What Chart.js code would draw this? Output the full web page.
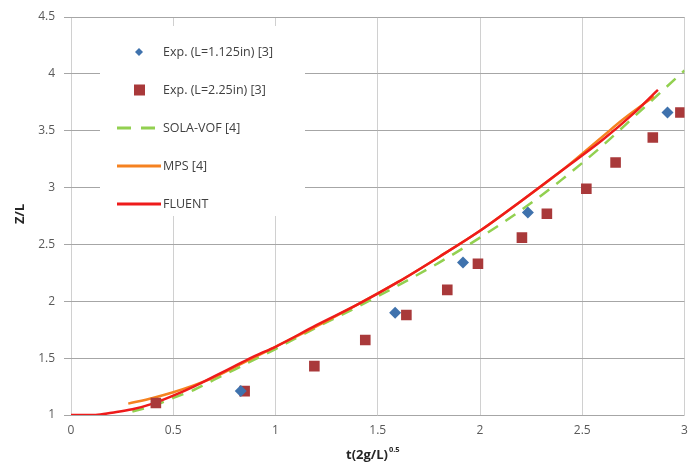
<!DOCTYPE html>
<html>
<head>
<meta charset="utf-8">
<script src="https://cdn.jsdelivr.net/npm/chart.js@4/dist/chart.umd.min.js"></script>
<style>
    html, body { margin: 0; padding: 0; background: #fff; }
    #wrap { width: 692px; height: 471px; position: relative; }
</style>
</head>
<body>
<div id="wrap"><canvas id="chart"></canvas></div>
<script>
// --- dados ---
const expSmallT = [0.83, 1.585, 1.917, 2.234, 2.917];
const expSmallZ = [1.21, 1.90, 2.34, 2.78, 3.66];

const expLargeT = [0.415, 0.849, 1.19, 1.439, 1.64, 1.84, 1.99, 2.205, 2.327, 2.52, 2.663, 2.845, 2.98];
const expLargeZ = [1.105, 1.21, 1.43, 1.66, 1.88, 2.10, 2.33, 2.56, 2.77, 2.99, 3.22, 3.44, 3.66];

const solaT = [0.3, 0.4, 0.5, 0.6, 0.7, 0.8, 1.0, 1.2, 1.4, 1.6, 1.8, 2.0, 2.2, 2.4, 2.6, 2.8, 3.0];
const solaZ = [1.03, 1.08, 1.15, 1.22, 1.31, 1.40, 1.58, 1.77, 1.95, 2.14, 2.34, 2.56, 2.80, 3.07, 3.37, 3.70, 4.03];

const mpsT = [0.28, 0.4, 0.5, 0.6, 0.7, 0.8, 1.0, 1.2, 1.4, 1.6, 1.8, 2.0, 2.2, 2.4, 2.6, 2.7, 2.85];
const mpsZ = [1.10, 1.15, 1.20, 1.26, 1.33, 1.42, 1.60, 1.78, 1.97, 2.17, 2.39, 2.62, 2.88, 3.15, 3.45, 3.60, 3.80];

const fluentT = [0, 0.12, 0.2, 0.3, 0.4, 0.5, 0.6, 0.7, 0.8, 0.9, 1.0, 1.2, 1.4, 1.6, 1.8, 2.0, 2.2, 2.4, 2.6, 2.75, 2.87];
const fluentZ = [1.0, 1.0, 1.02, 1.05, 1.10, 1.17, 1.25, 1.34, 1.43, 1.52, 1.60, 1.79, 1.97, 2.17, 2.39, 2.62, 2.88, 3.15, 3.42, 3.65, 3.86];

const xTicks = [0, 0.5, 1, 1.5, 2, 2.5, 3];
const yTicks = [1, 1.5, 2, 2.5, 3, 3.5, 4, 4.5];

const toXY = (xs, ys) => xs.map((x, i) => ({ x, y: ys[i] }));

const cores = {
    azul: '#3f72ad',
    vinho: '#a9393a',
    verde: '#92d050',
    laranja: '#f58220',
    vermelho: '#ee1b1b',
    texto: '#595959'
};

// legenda desenhada dentro da área do gráfico
const legendaPlugin = {
    id: 'legendaInterna',
    afterDraw(chart) {
        const ctx = chart.ctx;
        ctx.save();
        ctx.fillStyle = '#fff';
        ctx.fillRect(100, 26, 205, 190);

        const itens = [
            { tipo: 'diamante', cor: cores.azul, texto: 'Exp. (L=1.125in) [3]' },
            { tipo: 'quadrado', cor: cores.vinho, texto: 'Exp. (L=2.25in) [3]' },
            { tipo: 'tracejada', cor: cores.verde, texto: 'SOLA-VOF [4]' },
            { tipo: 'linha', cor: cores.laranja, texto: 'MPS [4]' },
            { tipo: 'linha', cor: cores.vermelho, texto: 'FLUENT' }
        ];
        ctx.font = '12.5px "Open Sans", sans-serif';
        ctx.textBaseline = 'middle';
        itens.forEach((it, i) => {
            const y = 52 + i * 38;
            ctx.fillStyle = it.cor;
            ctx.strokeStyle = it.cor;
            if (it.tipo === 'diamante') {
                ctx.beginPath();
                ctx.moveTo(139, y - 4);
                ctx.lineTo(143, y);
                ctx.lineTo(139, y + 4);
                ctx.lineTo(135, y);
                ctx.closePath();
                ctx.fill();
            } else if (it.tipo === 'quadrado') {
                ctx.fillRect(134, y - 5.5, 11, 11);
            } else {
                ctx.lineWidth = 3;
                ctx.setLineDash(it.tipo === 'tracejada' ? [14, 10] : []);
                ctx.beginPath();
                ctx.moveTo(117, y);
                ctx.lineTo(161, y);
                ctx.stroke();
                ctx.setLineDash([]);
            }
            ctx.fillStyle = '#404040';
            ctx.fillText(it.texto, 163, y);
        });

        // títulos dos eixos
        ctx.fillStyle = '#262626';
        ctx.font = 'bold 13px "Open Sans", sans-serif';
        ctx.save();
        ctx.translate(20, 214);
        ctx.rotate(-Math.PI / 2);
        ctx.textAlign = 'center';
        ctx.fillText('Z/L', 0, 0);
        ctx.restore();

        ctx.textAlign = 'left';
        ctx.fillText('t(2g/L)', 346, 455);
        const w = ctx.measureText('t(2g/L)').width;
        ctx.font = 'bold 7.5px "Open Sans", sans-serif';
        ctx.fillText('0.5', 346 + w + 1, 450);
        ctx.restore();
    }
};

const comuns = { showLine: true, pointRadius: 0, borderWidth: 2.5, fill: false, cubicInterpolationMode: 'monotone' };
const fonteTicks = { size: 12, family: '"Open Sans", sans-serif' };

new Chart(document.getElementById('chart'), {
    type: 'scatter',
    data: {
        datasets: [
            { ...comuns, label: 'SOLA-VOF [4]', data: toXY(solaT, solaZ), borderColor: cores.verde, borderDash: [12, 9], order: 5 },
            { ...comuns, label: 'MPS [4]', data: toXY(mpsT, mpsZ), borderColor: cores.laranja, order: 4 },
            { ...comuns, label: 'FLUENT', data: toXY(fluentT, fluentZ), borderColor: cores.vermelho, order: 3 },
            {
                label: 'Exp. (L=2.25in) [3]', data: toXY(expLargeT, expLargeZ),
                pointStyle: 'rect', pointRadius: 7.5, backgroundColor: cores.vinho, borderColor: cores.vinho, borderWidth: 0, order: 2
            },
            {
                label: 'Exp. (L=1.125in) [3]', data: toXY(expSmallT, expSmallZ),
                pointStyle: 'rectRot', pointRadius: 6, backgroundColor: cores.azul, borderColor: cores.azul, borderWidth: 0, order: 1
            }
        ]
    },
    options: {
        responsive: true,
        maintainAspectRatio: false,
        animation: false,
        events: [],
        layout: { padding: { top: 17, right: 5, left: 0, bottom: 0 } },
        plugins: { legend: { display: false }, tooltip: { enabled: false } },
        scales: {
            x: {
                type: 'linear', min: 0, max: 3,
                afterBuildTicks: s => { s.ticks = xTicks.map(v => ({ value: v })); },
                afterFit: s => { s.height = 56; s.paddingRight = 0; s.paddingLeft = 0; },
                grid: { color: '#d0d0d0', lineWidth: 1, drawTicks: false },
                border: { display: false },
                ticks: { color: cores.texto, font: fonteTicks, padding: 8, maxRotation: 0, callback: v => String(v) }
            },
            y: {
                type: 'linear', min: 1, max: 4.5,
                afterBuildTicks: s => { s.ticks = yTicks.map(v => ({ value: v })); },
                afterFit: s => { s.width = 71; },
                grid: { color: '#a6a6a6', lineWidth: 1, drawTicks: true, tickLength: 7, tickColor: '#a6a6a6' },
                border: { display: false },
                ticks: { color: cores.texto, font: fonteTicks, padding: 9, callback: v => String(v) }
            }
        }
    },
    plugins: [legendaPlugin]
});
</script>
</body>
</html>
